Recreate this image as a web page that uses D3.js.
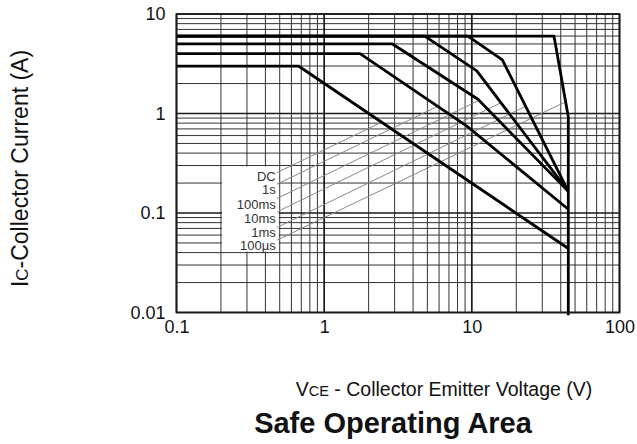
<!DOCTYPE html>
<html><head><meta charset="utf-8">
<script src="https://cdn.jsdelivr.net/npm/d3@7"></script>
<style>body{margin:0;background:#fff}svg{display:block}</style>
</head><body><svg id="c" width="637" height="444"></svg>
<script>
// ---- data ----
const xTicks = [0.1, 1, 10, 100];
const yTicks = [0.01, 0.1, 1, 10];
const xTickLabels = ["0.1", "1", "10", "100"];
const yTickLabels = ["0.01", "0.1", "1", "10"];
// SOA boundary curves [Vce (V), Ic (A)]
const curve100us = [[0.1, 6], [36, 6], [45, 0.93], [45, 0.0094]];
const curve1ms   = [[0.1, 6], [9.4, 6], [16.1, 3.46], [45, 0.165]];
const curve10ms  = [[0.1, 6], [4.8, 6], [10.8, 2.68], [45, 0.165]];
const curve100ms = [[0.1, 5], [2.9, 5], [11, 1.39], [45, 0.165]];
const curve1s    = [[0.1, 4], [1.75, 4], [9.2, 0.75], [45, 0.109]];
const curveDC    = [[0.1, 3], [0.67, 3], [45, 0.044]];
const curves = [curve100us, curve1ms, curve10ms, curve100ms, curve1s, curveDC];
// callout labels and leader lines
const labelNames  = ["DC", "1s", "100ms", "10ms", "1ms", "100µs"];
const labelText   = [[0.47, 0.212], [0.47, 0.1535], [0.47, 0.1098], [0.47, 0.0802], [0.47, 0.058], [0.47, 0.042]];
const labelStart  = [[0.48, 0.255], [0.48, 0.195], [0.48, 0.140], [0.48, 0.1027], [0.48, 0.0715], [0.48, 0.0534]];
const leaderEnd   = [[2.45, 0.818], [5.85, 1.18], [11.0, 1.34], [15.7, 1.28], [23.1, 1.18], [43.2, 1.31]];
// label box (white background) bounds in data units
const boxV = [0.2, 0.5];
const boxI = [0.04, 0.3];

// ---- layout ----
const svg = d3.select("#c");
const x = d3.scaleLog().domain([0.1, 100]).range([176.5, 619.5]);
const y = d3.scaleLog().domain([0.01, 10]).range([312.5, 14]);
const font = "'Liberation Sans', Arial, Helvetica, sans-serif";

// grid values
const decadesX = d3.range(-1, 2), decadesY = d3.range(-2, 1);
const minorX = [], minorY = [];
decadesX.forEach(e => { for (let k = 2; k <= 9; k++) minorX.push(k * Math.pow(10, e)); });
decadesY.forEach(e => { for (let k = 2; k <= 9; k++) minorY.push(k * Math.pow(10, e)); });

const g = svg.append("g");
g.selectAll("line.mx").data(minorX).join("line")
  .attr("x1", d => x(d)).attr("x2", d => x(d)).attr("y1", y(10)).attr("y2", y(0.01))
  .attr("stroke", "#333").attr("stroke-width", 1);
g.selectAll("line.my").data(minorY).join("line")
  .attr("y1", d => y(d)).attr("y2", d => y(d)).attr("x1", x(0.1)).attr("x2", x(100))
  .attr("stroke", "#333").attr("stroke-width", 1);
g.selectAll("line.Mx").data(xTicks).join("line")
  .attr("x1", d => x(d)).attr("x2", d => x(d)).attr("y1", y(10)).attr("y2", y(0.01))
  .attr("stroke", "#1a1a1a").attr("stroke-width", 1.7);
g.selectAll("line.My").data(yTicks).join("line")
  .attr("y1", d => y(d)).attr("y2", d => y(d)).attr("x1", x(0.1)).attr("x2", x(100))
  .attr("stroke", "#1a1a1a").attr("stroke-width", 1.7);

// white label box
svg.append("rect")
  .attr("x", x(boxV[0]) + 1).attr("width", x(boxV[1]) - x(boxV[0]) - 2)
  .attr("y", y(boxI[1]) + 1).attr("height", y(boxI[0]) - y(boxI[1]) - 2)
  .attr("fill", "#fff");

// leader lines
svg.selectAll("line.lead").data(labelStart).join("line")
  .attr("x1", d => x(d[0])).attr("y1", d => y(d[1]))
  .attr("x2", (d, i) => x(leaderEnd[i][0])).attr("y2", (d, i) => y(leaderEnd[i][1]))
  .attr("stroke", "#888").attr("stroke-width", 1);

// curves
const line = d3.line().x(d => x(d[0])).y(d => y(d[1]));
svg.selectAll("path.curve").data(curves).join("path")
  .attr("d", line).attr("fill", "none").attr("stroke", "#000")
  .attr("stroke-width", 2.8).attr("stroke-linejoin", "round");

// labels
svg.selectAll("text.lab").data(labelNames).join("text")
  .attr("x", (d, i) => x(labelText[i][0]))
  .attr("y", (d, i) => y(labelText[i][1]))
  .attr("text-anchor", "end").attr("font-family", font).attr("font-size", 13)
  .attr("fill", "#333").text(d => d);

// border
svg.append("rect").attr("x", x(0.1)).attr("y", y(10))
  .attr("width", x(100) - x(0.1)).attr("height", y(0.01) - y(10))
  .attr("fill", "none").attr("stroke", "#1a1a1a").attr("stroke-width", 1.7);

// axes
const ax = svg.append("g").attr("transform", `translate(0,${y(0.01)})`)
  .call(d3.axisBottom(x).tickValues(xTicks).tickFormat((d, i) => xTickLabels[i]).tickSize(0).tickPadding(8));
const ay = svg.append("g").attr("transform", `translate(${x(0.1)},0)`)
  .call(d3.axisLeft(y).tickValues(yTicks).tickFormat((d, i) => yTickLabels[i]).tickSize(0).tickPadding(11));
[ax, ay].forEach(a => {
  a.select(".domain").remove();
  a.selectAll("text").attr("font-family", font).attr("font-size", 18).attr("fill", "#111");
});

// axis titles
const yl = svg.append("text").attr("transform", "translate(28,168.5) rotate(-90)")
  .attr("text-anchor", "middle").attr("font-family", font).attr("font-size", 23).attr("fill", "#111");
yl.append("tspan").text("I");
yl.append("tspan").attr("font-size", 17).text("C");
yl.append("tspan").text("-Collector Current (A)");

const xl = svg.append("text").attr("x", 444).attr("y", 396)
  .attr("text-anchor", "middle").attr("font-family", font).attr("font-size", 19.5).attr("fill", "#111");
xl.append("tspan").text("V");
xl.append("tspan").attr("font-size", 14.5).text("CE");
xl.append("tspan").text(" - Collector Emitter Voltage (V)");

svg.append("text").attr("x", 393).attr("y", 433).attr("text-anchor", "middle")
  .attr("font-family", font).attr("font-size", 29).attr("font-weight", "bold").attr("fill", "#111")
  .text("Safe Operating Area");
</script></body></html>
